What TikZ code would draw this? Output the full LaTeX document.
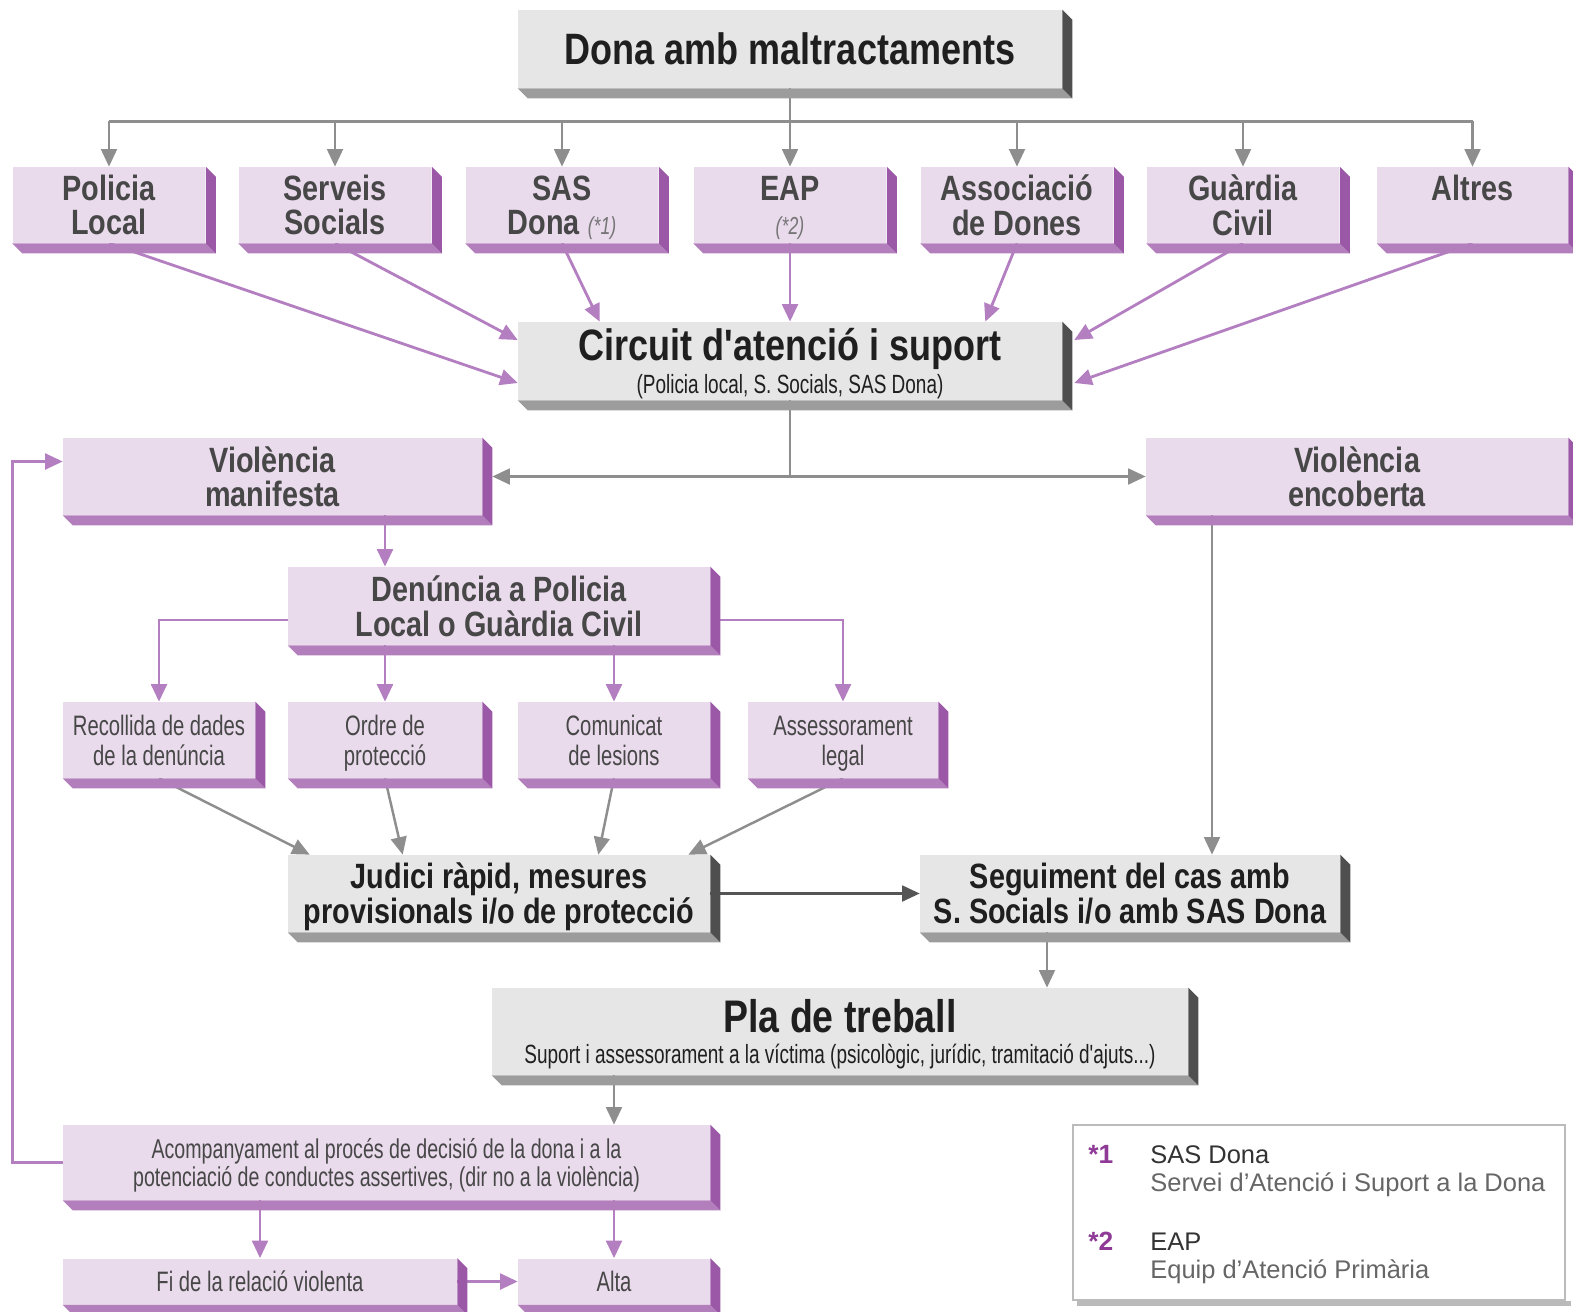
\documentclass[tikz,border=0pt]{standalone}
\usepackage{fontspec}
\setmainfont{Liberation Sans}
\newfontfamily\cond[FakeStretch=0.82]{Liberation Sans}
\newfontfamily\xcond[FakeStretch=0.72]{Liberation Sans}
\usetikzlibrary{arrows.meta,backgrounds}

\definecolor{lilaface}{HTML}{E9DAEC}
\definecolor{lilaside}{HTML}{9B58A7}
\definecolor{lilabot}{HTML}{B27EBC}
\definecolor{lilaline}{HTML}{B47FC1}
\definecolor{grisface}{HTML}{E6E6E6}
\definecolor{grisside}{HTML}{4F4F4F}
\definecolor{grisbot}{HTML}{9C9C9C}
\definecolor{grisline}{HTML}{8E8E8E}
\definecolor{grisfosc}{HTML}{555555}
\definecolor{textgris}{HTML}{474747}
\definecolor{morat}{HTML}{8E3A96}

\tikzset{
  lbox/.style={fill=lilaface, inner sep=0pt, align=center, text=textgris, text depth=0pt,
    font=\cond\bfseries\fontsize{20}{18.5}\selectfont},
  gbox/.style={fill=grisface, inner sep=0pt, align=center, text=black!88, text depth=0pt,
    font=\cond\bfseries\fontsize{20}{18.5}\selectfont},
  sbox/.style={lbox, font=\xcond\fontsize{16}{17}\selectfont},
  larrow/.style={draw=lilaline, line width=1.6pt, -{Triangle[length=10pt,width=9pt]}},
  garrow/.style={draw=grisline, line width=1.4pt, -{Triangle[length=10pt,width=9pt]}},
  darrow/.style={draw=grisfosc, line width=1.4pt, -{Triangle[length=10pt,width=9pt]}},
  gline/.style={draw=grisline, line width=1.4pt},
  llegtext/.style={anchor=base west, inner sep=0pt, font=\fontsize{14.5}{15}\selectfont},
}

% relleu 3D: cara inferior i cara dreta
\newcommand{\relleu}[3]{%
  \fill[#3] (#1.south west) -- (#1.south east) -- ([shift={(10,10)}]#1.south east)
    -- ([shift={(10,10)}]#1.south west) -- cycle;
  \fill[#2] (#1.north east) -- ([shift={(10,10)}]#1.north east)
    -- ([shift={(10,10)}]#1.south east) -- (#1.south east) -- cycle;}
\newcommand{\nota}{\xcond\mdseries\itshape\fontsize{14}{14}\selectfont\color{textgris!75}}
\newcommand{\linia}{\vphantom{lp}}

\begin{document}
\begin{tikzpicture}[x=0.02cm, y=-0.02cm]
\useasboundingbox (0,0) rectangle (1573,1312);

 % capcalera
 \node[gbox, minimum width=10.88cm, minimum height=1.56cm, font=\cond\bfseries\fontsize{25}{26}\selectfont] (dona) at (790,49) {Dona amb maltractaments};

 % serveis d'entrada
 \node[lbox, minimum width=3.86cm, minimum height=1.52cm] (pol) at (109,205) {Policia\linia\\Local\linia};
 \node[lbox, minimum width=3.86cm, minimum height=1.52cm] (ser) at (335,205) {Serveis\linia\\Socials\linia};
 \node[lbox, minimum width=3.86cm, minimum height=1.52cm] (sas) at (562,205) {SAS\linia\\Dona {\nota(*1)}\linia};
 \node[lbox, minimum width=3.86cm, minimum height=1.52cm] (eap) at (790,205) {EAP\linia\\{\nota(*2)}\linia};
 \node[lbox, minimum width=3.86cm, minimum height=1.52cm] (ass) at (1017,205) {Associació\linia\\de Dones\linia};
 \node[lbox, minimum width=3.86cm, minimum height=1.52cm] (gua) at (1243,205) {Guàrdia\linia\\Civil\linia};
 \node[lbox, minimum width=3.82cm, minimum height=1.52cm] (alt) at (1472.5,205) {Altres\linia\\\linia};

 \node[gbox, minimum width=10.88cm, minimum height=1.56cm] (circ) at (790,361) {{\fontsize{25}{25}\selectfont Circuit d'atenció i suport}\\{\xcond\mdseries\fontsize{15}{15}\selectfont (Policia local, S. Socials, SAS Dona)}};

 % tipus de violencia
 \node[lbox, minimum width=8.38cm, minimum height=1.54cm] (vman) at (272.5,476.5) {Violència\linia\\manifesta\linia};
 \node[lbox, minimum width=8.44cm, minimum height=1.54cm] (venc) at (1357,476.5) {Violència\linia\\encoberta\linia};

 \node[lbox, minimum width=8.44cm, minimum height=1.56cm] (den) at (499,606) {Denúncia a Policia\linia\\Local o Guàrdia Civil\linia};

 \node[sbox, minimum width=3.84cm, minimum height=1.52cm] (rec) at (159,740) {Recollida de dades\linia\\de la denúncia\linia};
 \node[sbox, minimum width=3.88cm, minimum height=1.52cm] (ord) at (385,740) {Ordre de\linia\\protecció\linia};
 \node[sbox, minimum width=3.84cm, minimum height=1.52cm] (com) at (614,740) {Comunicat\linia\\de lesions\linia};
 \node[sbox, minimum width=3.80cm, minimum height=1.52cm] (asl) at (843,740) {Assessorament\linia\\legal\linia};

 \node[gbox, minimum width=8.44cm, minimum height=1.54cm] (jud) at (499,893.5) {Judici ràpid, mesures\linia\\provisionals i/o de protecció\linia};
 \node[gbox, minimum width=8.40cm, minimum height=1.54cm] (seg) at (1130,893.5) {Seguiment del cas amb\linia\\S. Socials i/o amb SAS Dona\linia};

 \node[gbox, minimum width=13.92cm, minimum height=1.74cm, font=\cond\bfseries\fontsize{26}{21}\selectfont] (pla) at (840,1031.5) {Pla de treball\\[-3pt]{\xcond\mdseries\fontsize{15}{15}\selectfont Suport i assessorament a la víctima (psicològic, jurídic, tramitació d'ajuts...)}};

 \node[sbox, minimum width=12.94cm, minimum height=1.50cm, font=\xcond\fontsize{15.5}{16}\selectfont] (acp) at (386.5,1162.5) {Acompanyament al procés de decisió de la dona i a la\linia\\potenciació de conductes assertives, (dir no a la violència)\linia};

 \node[sbox, minimum width=7.88cm, minimum height=0.92cm] (fi) at (260,1281.5) {Fi de la relació violenta\linia};
 \node[sbox, minimum width=3.84cm, minimum height=0.92cm] (alta) at (614,1281.5) {Alta\linia};

 % relleus
 \foreach \n in {pol,ser,sas,eap,ass,gua,alt,vman,venc,den,rec,ord,com,asl,acp,fi,alta}
   {\relleu{\n}{lilaside}{lilabot}}
 \foreach \n in {dona,circ,jud,seg,pla}
   {\relleu{\n}{grisside}{grisbot}}

 % llegenda
 \node[draw=grisline!60, line width=1pt, fill=white, minimum width=9.84cm, minimum height=3.5cm, inner sep=0pt] (lleg) at (1319,1212.5) {};
 \fill[grisbot!70] ([shift={(5,0)}]lleg.south west) rectangle ([shift={(5,5)}]lleg.south east);
 \node[llegtext, text=morat, font=\bfseries\fontsize{15}{15}\selectfont] (n1) at (1088,1163) {*1};
 \node[llegtext, text=black!80] (t1) at (1150,1163) {SAS Dona};
 \node[llegtext, text=black!60] (d1) at (1150,1191) {Servei d'Atenció i Suport a la Dona};
 \node[llegtext, text=morat, font=\bfseries\fontsize{15}{15}\selectfont] (n2) at (1088,1250) {*2};
 \node[llegtext, text=black!80] (t2) at (1150,1250) {EAP};
 \node[llegtext, text=black!60] (d2) at (1150,1278) {Equip d'Atenció Primària};

 % connectors
 \begin{scope}[on background layer]
  \draw[gline] (dona.south) -- ++(0,33) coordinate (repart);
  \draw[gline] (pol.north |- repart) -- (alt.north |- repart);
  \foreach \n in {pol,ser,sas,eap,ass,gua,alt}
    \draw[garrow] (\n.north |- repart) -- (\n.north);

  \draw[larrow] (pol.south) -- ([shift={(0,22)}]circ.west);
  \draw[larrow] (ser.south) -- ([shift={(0,-21)}]circ.west);
  \draw[larrow] (sas.south) -- ([shift={(82,0)}]circ.north west);
  \draw[larrow] (eap.south) -- (circ.north);
  \draw[larrow] (ass.south) -- ([shift={(-77,0)}]circ.north east);
  \draw[larrow] (gua.south) -- ([shift={(12,-21)}]circ.east);
  \draw[larrow] (alt.south) -- ([shift={(12,22)}]circ.east);

  \draw[garrow] (circ.south) |- ([shift={(10,0)}]vman.east);
  \draw[garrow] (circ.south) |- (venc.west);

  \draw[larrow] (vman.south -| ord.north) -- (den.north -| ord.north);
  \draw[larrow] ([shift={(0,14)}]den.west) -| (rec.north);
  \draw[larrow] ([shift={(10,14)}]den.east) -| (asl.north);
  \draw[larrow] (den.south -| ord.north) -- (ord.north);
  \draw[larrow] (den.south -| com.north) -- (com.north);

  \draw[garrow] (rec.south) -- ([shift={(22,0)}]jud.north west);
  \draw[garrow] (ord.south) -- ([shift={(115,0)}]jud.north west);
  \draw[garrow] (com.south) -- ([shift={(-112,0)}]jud.north east);
  \draw[garrow] (asl.south) -- ([shift={(-22,0)}]jud.north east);

  \draw[darrow] (jud.east) -- (seg.west);
  \draw[garrow] ([shift={(-145,0)}]venc.south) coordinate (vb) -- (vb |- seg.north);
  \draw[garrow] ([shift={(-83,0)}]seg.south) coordinate (sb) -- (sb |- pla.north);
  \draw[garrow] (pla.south -| com.north) -- (acp.north -| com.north);

  \draw[larrow] (acp.west) -- ++(-50,0) |- ([shift={(0,-15)}]vman.west);
  \draw[larrow] (acp.south -| fi.north) -- (fi.north);
  \draw[larrow] (acp.south -| alta.north) -- (alta.north);
  \draw[larrow] (fi.east) -- (alta.west);
 \end{scope}

\end{tikzpicture}
\end{document}
